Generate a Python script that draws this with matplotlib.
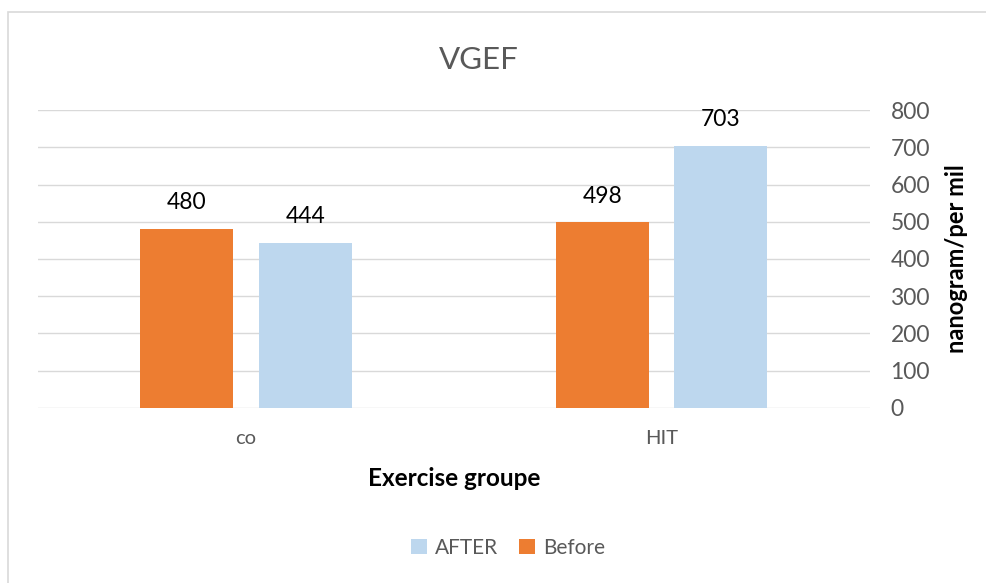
import matplotlib.pyplot as plt
import numpy as np
from matplotlib.patches import Rectangle

plt.rcParams['font.family'] = ['Lato', 'DejaVu Sans']

# Data
groups = ["co", "HIT"]
before = [480, 498]
after = [444, 703]
y_ticks = [0, 100, 200, 300, 400, 500, 600, 700, 800]

ORANGE = '#ED7D31'
BLUE = '#BDD7EE'
GRAY_TXT = '#595959'

fig = plt.figure(figsize=(9.87, 5.83), dpi=100)
ax = fig.add_axes([0.0385, 0.3002, 0.8425, 0.5111])

x = np.arange(len(groups))
w = 0.224
off = 0.1425
b1 = ax.bar(x - off, before, w, color=ORANGE, label='Before', zorder=3)
b2 = ax.bar(x + off, after, w, color=BLUE, label='AFTER', zorder=3)

for bars, vals in ((b1, before), (b2, after)):
    for bar, v in zip(bars, vals):
        ax.annotate(f'{v}', (bar.get_x() + bar.get_width() / 2, v),
                    xytext=(0, 19), textcoords='offset points',
                    ha='center', va='center', fontsize=16.5, color='black')

ax.set_xlim(-0.5, 1.5)
ax.set_ylim(0, 800)
ax.yaxis.tick_right()
ax.yaxis.set_label_position('right')
ax.set_yticks(y_ticks)
ax.set_yticklabels([str(t) for t in y_ticks], fontsize=16.5, color=GRAY_TXT)
ax.tick_params(axis='y', length=0, pad=15)
ax.set_xticks(x)
ax.set_xticklabels(groups, fontsize=14.5, color=GRAY_TXT)
ax.tick_params(axis='x', length=0, pad=16)
ax.grid(axis='y', color='#D9D9D9', linewidth=1, zorder=0)
for s in ax.spines.values():
    s.set_visible(False)

ax.set_ylabel('nanogram/per mil', fontsize=17, fontweight='bold', labelpad=11)
ax.set_xlabel('Exercise groupe', fontsize=17.5, fontweight='bold', labelpad=14)

fig.text(0.485, 1 - 60 / 583, 'VGEF', ha='center', va='center',
         fontsize=22.5, color=GRAY_TXT)

handles = [b2, b1]
fig.legend(handles, ['AFTER', 'Before'], loc='center', bbox_to_anchor=(0.515, 0.06),
           ncol=2, frameon=False, fontsize=15, labelcolor=GRAY_TXT,
           handlelength=0.75, handleheight=0.75, handletextpad=0.4, columnspacing=1.0)

# chart border
fig.patches.append(Rectangle((8 / 987, -0.01), 1.0, 1 - 12 / 583 + 0.01,
                             transform=fig.transFigure, fill=False,
                             edgecolor='#D9D9D9', linewidth=1.2))

fig.savefig('out.png', dpi=100)
